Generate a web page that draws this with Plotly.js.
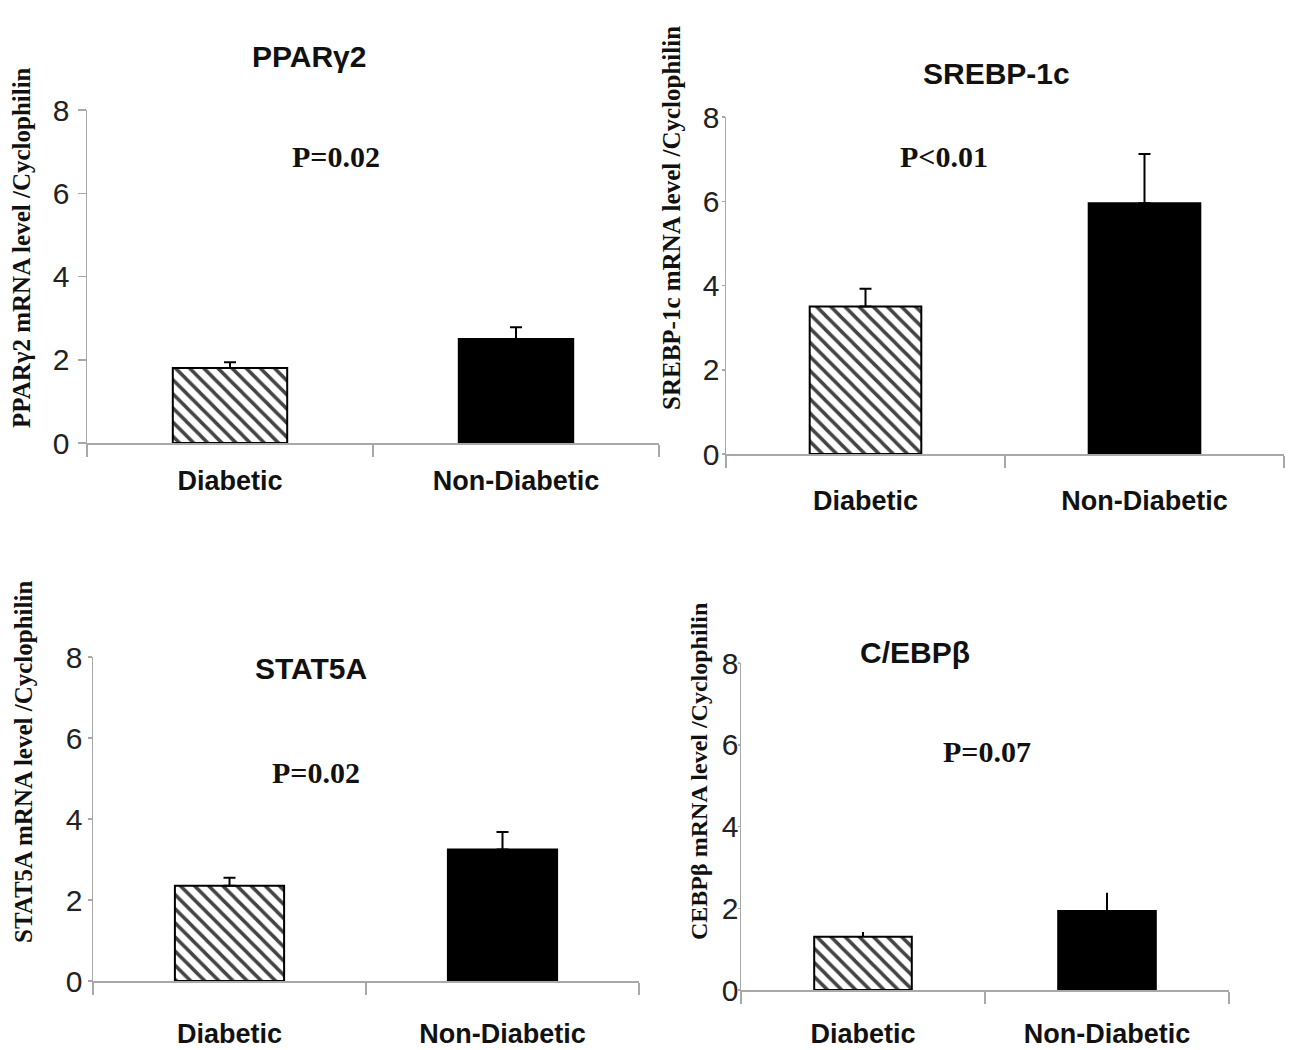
<!DOCTYPE html>
<html>
<head>
<meta charset="utf-8">
<script src="https://cdn.plot.ly/plotly-3.0.1.min.js"></script>
<style>html,body{margin:0;padding:0;background:#fff;}#chart{width:1291px;height:1050px;}</style>
</head>
<body>
<div id="chart"></div>
<script>
// ---- data ----
const categories = ['Diabetic', 'Non-Diabetic'];
const yTickVals = [0, 2, 4, 6, 8];
const yTickText = ['0', '2', '4', '6', '8'];

const pparTitle = 'PPARγ2';
const pparYLabel = 'PPARγ2 mRNA level /Cyclophilin';
const pparP = 'P=0.02';
const pparValues = [1.8, 2.5];
const pparErr = [0.14, 0.28];

const srebpTitle = 'SREBP-1c';
const srebpYLabel = 'SREBP-1c mRNA level /Cyclophilin';
const srebpP = 'P<0.01';
const srebpValues = [3.5, 5.95];
const srebpErr = [0.42, 1.17];

const statTitle = 'STAT5A';
const statYLabel = 'STAT5A mRNA level /Cyclophilin';
const statP = 'P=0.02';
const statValues = [2.35, 3.25];
const statErr = [0.2, 0.43];

const cebpTitle = 'C/EBPβ';
const cebpYLabel = 'CEBPβ mRNA level /Cyclophilin';
const cebpP = 'P=0.07';
const cebpValues = [1.3, 1.93];
const cebpErr = [0.12, 0.45];

// ---- layout helpers ----
const W = 1291, H = 1050;
const px = x => x / W;
const py = y => 1 - y / H;
const xpos = categories.map((c, i) => i);

const SANS = 'Liberation Sans, Arial, sans-serif';
const SERIF = 'Liberation Serif, Times New Roman, serif';

function barTrace(values, errs, xa, ya, capWidth) {
  return {
    type: 'bar',
    x: xpos,
    y: values,
    xaxis: xa,
    yaxis: ya,
    width: 0.4,
    marker: {
      color: ['#ffffff', '#000000'],
      line: {color: '#000000', width: 2},
      pattern: {shape: ['\\', ''], fillmode: 'overlay', fgcolor: '#000000', fgopacity: 1, size: 10, solidity: 0.35}
    },
    error_y: {
      type: 'data', symmetric: false, array: errs, arrayminus: errs.map(() => 0),
      color: '#000000', thickness: 2, width: capWidth
    },
    hoverinfo: 'skip'
  };
}

function xAxis(domain, anchor, labelGap) {
  return {
    domain: domain, anchor: anchor,
    range: [-0.5, 1.5], fixedrange: true,
    tickmode: 'array', tickvals: xpos, ticktext: categories,
    ticks: 'outside', ticklen: labelGap, tickcolor: 'rgba(0,0,0,0)',
    tickfont: {family: SANS, size: 27, color: '#111', weight: 'bold'},
    showline: true, linecolor: '#a8a8a8', linewidth: 1.5,
    showgrid: false, zeroline: false,
    minor: {tickmode: 'array', tickvals: [-0.5, 0.5, 1.5], ticks: 'outside', ticklen: 12, tickcolor: '#a8a8a8', tickwidth: 1.5, showgrid: false}
  };
}

function yAxis(domain, anchor, tlen, standoff) {
  return {
    domain: domain, anchor: anchor,
    range: [0, 8], fixedrange: true,
    tickmode: 'array', tickvals: yTickVals, ticktext: yTickText,
    ticks: 'outside', ticklen: tlen, tickcolor: '#a8a8a8', tickwidth: 1.5,
    ticklabelstandoff: standoff,
    tickfont: {family: SANS, size: 30, color: '#222'},
    showline: true, linecolor: '#a8a8a8', linewidth: 1.5,
    showgrid: false, zeroline: false
  };
}

function textAnn(text, x, y, font, size, weight, angle) {
  return {
    text: text, xref: 'paper', yref: 'paper', x: px(x), y: py(y),
    xanchor: 'center', yanchor: 'middle', showarrow: false,
    textangle: angle || 0,
    font: {family: font, size: size, color: '#111', weight: weight}
  };
}

const data = [
  barTrace(pparValues, pparErr, 'x', 'y', 6),
  barTrace(srebpValues, srebpErr, 'x2', 'y2', 6),
  barTrace(statValues, statErr, 'x3', 'y3', 6),
  barTrace(cebpValues, cebpErr, 'x4', 'y4', 0)
];

const layout = {
  width: W, height: H,
  margin: {l: 0, r: 0, t: 0, b: 0},
  paper_bgcolor: '#ffffff', plot_bgcolor: 'rgba(0,0,0,0)',
  showlegend: false,
  xaxis:  xAxis([px(87),  px(659)],  'y',  13),
  yaxis:  yAxis([py(443), py(110)],  'x', 8, 2),
  xaxis2: xAxis([px(726), px(1284)], 'y2', 22),
  yaxis2: yAxis([py(454), py(117)],  'x2', 3, -4),
  xaxis3: xAxis([px(93),  px(639)],  'y3', 28),
  yaxis3: yAxis([py(981), py(657)],  'x3', 4, -1),
  xaxis4: xAxis([px(741), px(1229)], 'y4', 19),
  yaxis4: yAxis([py(990), py(663)],  'x4', 2, -7),
  annotations: [
    textAnn(pparTitle, 309, 56, SANS, 30, 'bold'),
    textAnn(srebpTitle, 996, 73, SANS, 30, 'bold'),
    textAnn(statTitle, 311, 668, SANS, 30, 'bold'),
    textAnn(cebpTitle, 915, 652, SANS, 30, 'bold'),
    textAnn(pparP, 336, 157, SERIF, 30, 'bold'),
    textAnn(srebpP, 944, 157, SERIF, 30, 'bold'),
    textAnn(statP, 316, 772, SERIF, 30, 'bold'),
    textAnn(cebpP, 987, 751, SERIF, 30, 'bold'),
    textAnn(pparYLabel, 22, 248, SERIF, 25, 'bold', -90),
    textAnn(srebpYLabel, 672, 218, SERIF, 25, 'bold', -90),
    textAnn(statYLabel, 23, 762, SERIF, 25, 'bold', -90),
    textAnn(cebpYLabel, 699, 772, SERIF, 24, 'bold', -90)
  ]
};

Plotly.newPlot('chart', data, layout, {staticPlot: true, displayModeBar: false});
</script>
</body>
</html>
